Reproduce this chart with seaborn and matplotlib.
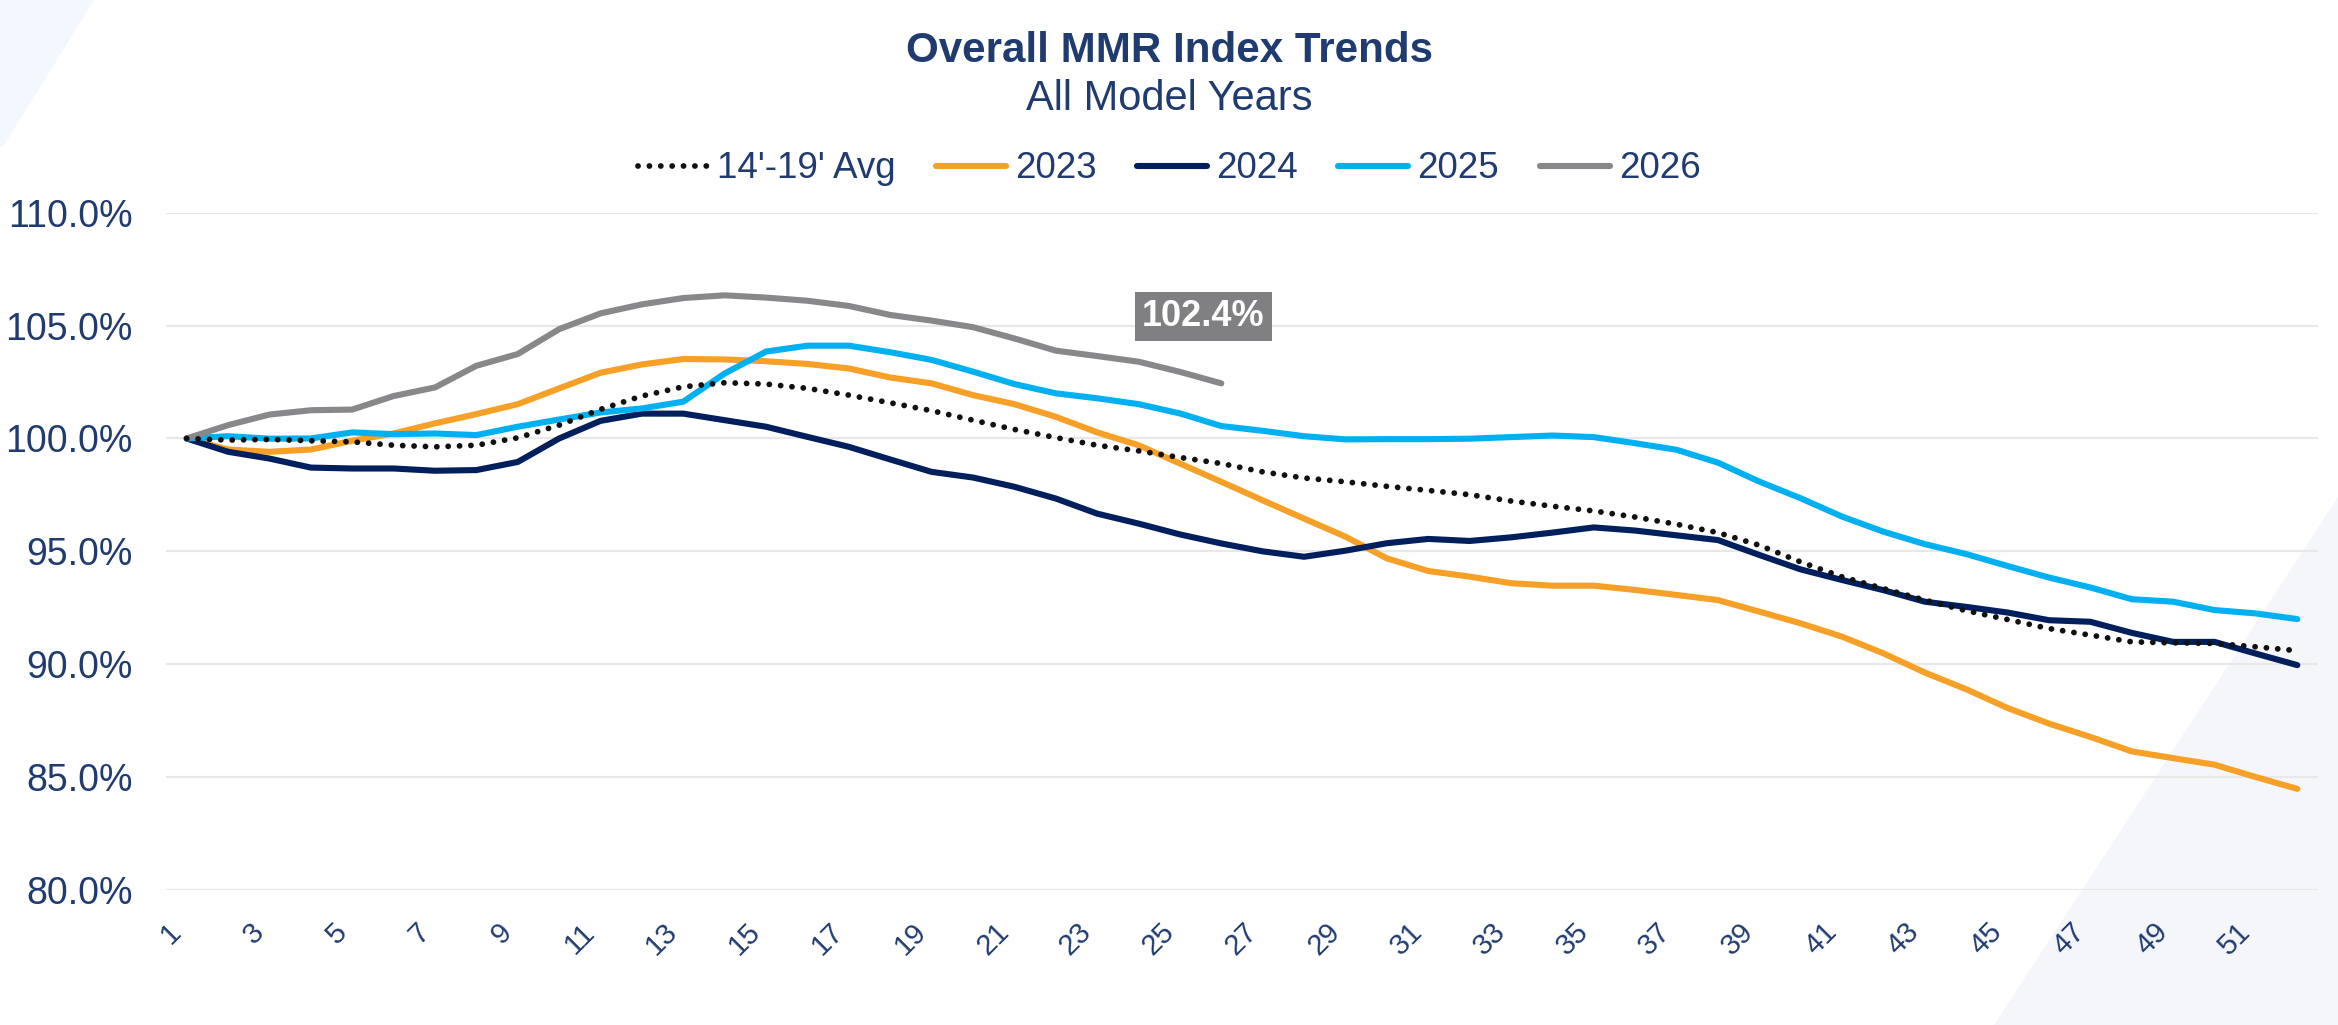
import matplotlib
matplotlib.use("Agg")
import matplotlib.pyplot as plt
import seaborn as sns
import pandas as pd
from matplotlib.lines import Line2D
from matplotlib.patches import Polygon

# ---------------- data ----------------
weeks = list(range(1, 53))
x_tick_weeks = list(range(1, 53, 2))
y_ticks = [80, 85, 90, 95, 100, 105, 110]

avg_14_19 = [100.0, 99.93, 99.96, 99.9, 99.85, 99.7, 99.63, 99.7, 100.03, 100.59,
             101.29, 101.88, 102.29, 102.47, 102.41, 102.22, 101.92, 101.58, 101.23, 100.81,
             100.4, 100.04, 99.7, 99.45, 99.16, 98.89, 98.52, 98.25, 98.08, 97.88,
             97.7, 97.51, 97.23, 97.0, 96.79, 96.52, 96.2, 95.83, 95.27, 94.53,
             93.87, 93.35, 92.84, 92.37, 91.98, 91.58, 91.29, 90.99, 90.95, 90.92,
             90.77, 90.6]
y2023 = [100.0, 99.51, 99.41, 99.51, 99.9, 100.22, 100.67, 101.08, 101.52, 102.22,
         102.91, 103.28, 103.52, 103.5, 103.42, 103.3, 103.1, 102.7, 102.44, 101.92,
         101.52, 100.96, 100.27, 99.7, 98.89, 98.08, 97.26, 96.45, 95.65, 94.69,
         94.13, 93.88, 93.59, 93.48, 93.48, 93.29, 93.07, 92.84, 92.33, 91.81,
         91.22, 90.48, 89.63, 88.89, 88.06, 87.37, 86.78, 86.14, 85.84, 85.55,
         85.0, 84.48]
y2024 = [100.0, 99.41, 99.11, 98.71, 98.67, 98.67, 98.57, 98.6, 98.96, 100.0,
         100.78, 101.1, 101.1, 100.81, 100.52, 100.07, 99.63, 99.07, 98.52, 98.27,
         97.86, 97.34, 96.67, 96.23, 95.75, 95.35, 95.0, 94.76, 95.03, 95.36,
         95.55, 95.46, 95.62, 95.83, 96.06, 95.92, 95.71, 95.5, 94.84, 94.2,
         93.73, 93.28, 92.77, 92.54, 92.29, 91.95, 91.88, 91.39, 90.99, 90.99,
         90.47, 89.96]
y2025 = [100.0, 100.1, 99.99, 100.0, 100.27, 100.19, 100.22, 100.15, 100.52, 100.84,
         101.15, 101.33, 101.63, 102.88, 103.85, 104.11, 104.11, 103.82, 103.48, 102.96,
         102.41, 102.0, 101.78, 101.52, 101.11, 100.55, 100.34, 100.1, 99.96, 99.97,
         99.97, 99.99, 100.06, 100.13, 100.06, 99.79, 99.5, 98.93, 98.09, 97.35,
         96.54, 95.87, 95.32, 94.88, 94.35, 93.84, 93.4, 92.88, 92.77, 92.4,
         92.25, 92.0]
y2026 = [100.0, 100.59, 101.06, 101.25, 101.28, 101.88, 102.26, 103.22, 103.74, 104.84,
         105.54, 105.94, 106.22, 106.34, 106.24, 106.1, 105.87, 105.47, 105.22, 104.93,
         104.43, 103.89, 103.65, 103.4, 102.95, 102.44]

series_names = ["14'-19' Avg", "2023", "2024", "2025", "2026"]
series_colors = ["#111111", "#F7A027", "#001F5C", "#00B0F0", "#88888A"]

# ---------------- styling ----------------
sns.set_theme(style="white")
plt.rcParams['font.family'] = ['Liberation Sans', 'DejaVu Sans']
TXT = "#1F3B6F"
LW = 4.4
DOT = (0, (0.01, 1.95))

W, H = 2338, 1025
fig = plt.figure(figsize=(W / 100, H / 100), dpi=100)
fig.patch.set_facecolor("white")

# decorative background shapes (behind everything)
fig.patches.append(Polygon([[0, 1], [94 / W, 1], [3 / W, 1 - 147 / H], [0, 1 - 147 / H]],
                           closed=True, transform=fig.transFigure,
                           facecolor="#F2F8FD", edgecolor="none", zorder=-10))
fig.patches.append(Polygon([[1994 / W, 0], [1, 1 - 497 / H], [1, 0]],
                           closed=True, transform=fig.transFigure,
                           facecolor="#F4F6FA", edgecolor="none", zorder=-10))

ax = fig.add_axes([166 / W, 1 - 890 / H, (2318 - 166) / W, (890 - 212.7) / H])
ax.set_facecolor("none")
ax.set_zorder(5)

df = pd.DataFrame({"week": weeks, "avg": avg_14_19, "y2023": y2023,
                   "y2024": y2024, "y2025": y2025})
df26 = pd.DataFrame({"week": weeks[:len(y2026)], "y2026": y2026})

sns.lineplot(data=df, x="week", y="y2023", ax=ax, color=series_colors[1], linewidth=LW,
             solid_capstyle="round", legend=False)
sns.lineplot(data=df, x="week", y="y2024", ax=ax, color=series_colors[2], linewidth=LW,
             solid_capstyle="round", legend=False)
sns.lineplot(data=df, x="week", y="y2025", ax=ax, color=series_colors[3], linewidth=LW,
             solid_capstyle="round", legend=False)
sns.lineplot(data=df26, x="week", y="y2026", ax=ax, color=series_colors[4], linewidth=LW,
             solid_capstyle="round", legend=False)
sns.lineplot(data=df, x="week", y="avg", ax=ax, color=series_colors[0], linewidth=LW * 0.95,
             linestyle=DOT, dash_capstyle="round", legend=False)

ax.set_xlim(0.5, 52.5)
ax.set_ylim(80, 110)
ax.set_yticks(y_ticks)
ax.set_yticklabels([f"{v:.1f}%" for v in y_ticks], fontsize=27, color=TXT)
ax.set_xticks(x_tick_weeks)
ax.set_xticklabels([str(w) for w in x_tick_weeks], fontsize=21, color=TXT,
                   rotation=45, ha="right")
ax.tick_params(axis="y", length=0, pad=24)
ax.tick_params(axis="x", length=0, pad=20)
ax.set_xlabel("")
ax.set_ylabel("")
ax.yaxis.grid(True, color="#E8E8E8", lw=1.6)
ax.xaxis.grid(False)
ax.set_axisbelow(True)
for s in ax.spines.values():
    s.set_visible(False)

# data label on latest 2026 point
ax.annotate(f"{y2026[-1]:.1f}%", xy=(len(y2026), y2026[-1]), xytext=(-18, 67),
            textcoords="offset pixels", ha="center", va="center",
            fontsize=26, fontweight="bold", color="white",
            bbox=dict(boxstyle="square,pad=0.2", fc="#808083", ec="none"))

# titles
fig.text(0.5, 1 - 62 / H, "Overall MMR Index Trends", ha="center", va="baseline",
         fontsize=30.3, fontweight="bold", color=TXT)
fig.text(0.5, 1 - 110 / H, "All Model Years", ha="center", va="baseline",
         fontsize=30, color=TXT)

# legend
handles = [Line2D([], [], color=series_colors[0], lw=LW * 0.95, linestyle=DOT,
                  dash_capstyle="round")]
handles += [Line2D([], [], color=c, lw=LW, solid_capstyle="round") for c in series_colors[1:]]
fig.legend(handles, series_names, loc="center", bbox_to_anchor=(0.5, 1 - 169 / H),
           ncol=5, frameon=False, fontsize=26.5, handlelength=1.9, handletextpad=0.25,
           columnspacing=1.1, labelcolor=TXT)

fig.savefig("out.png", dpi=100, facecolor="white")
